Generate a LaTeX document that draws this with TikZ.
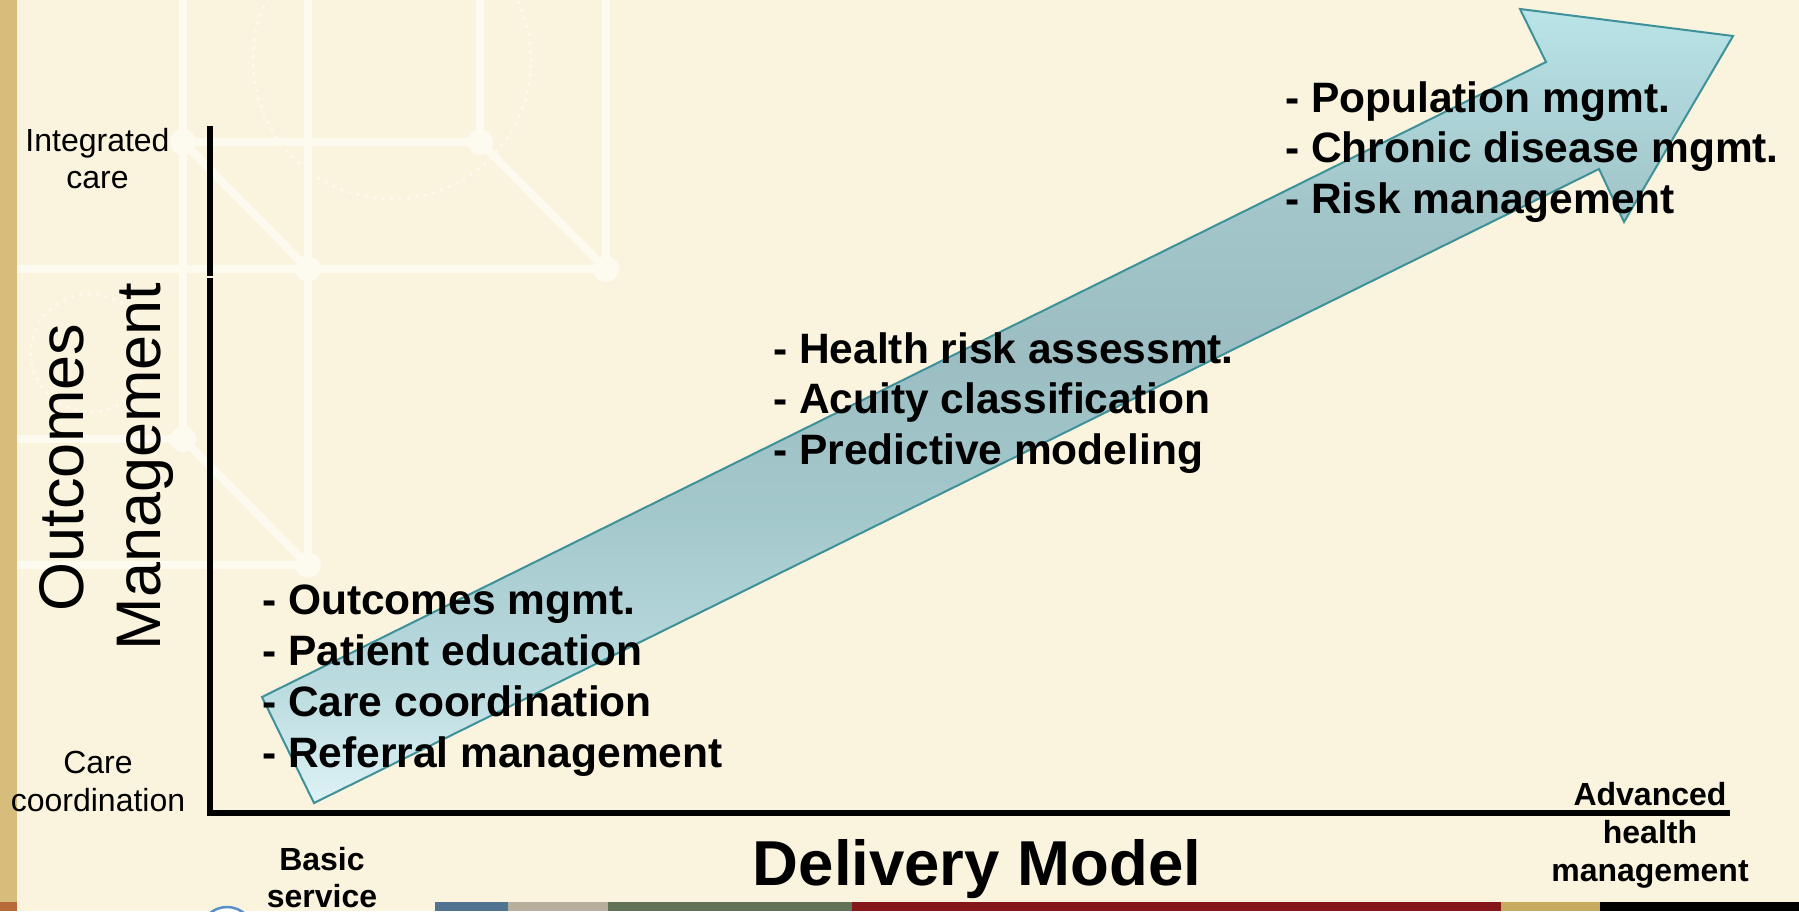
\documentclass[tikz,border=0pt]{standalone}
\usepackage{fontspec}
\setmainfont{Liberation Sans}
\usetikzlibrary{calc}

% palette
\definecolor{bgcream}{HTML}{FAF3DE}
\definecolor{bgline}{HTML}{FDFAF0}
\definecolor{bandgold}{HTML}{D7BC7B}
\definecolor{bandrust}{HTML}{B86A3B}
\definecolor{bandblue}{HTML}{4F7391}
\definecolor{bandtaupe}{HTML}{B8AE9E}
\definecolor{bandgreen}{HTML}{627257}
\definecolor{bandred}{HTML}{85161A}
\definecolor{bandochre}{HTML}{C8AA5E}
\definecolor{logoblue}{HTML}{5B8FC8}
\definecolor{arrowedge}{HTML}{3E9199}
\definecolor{arA}{HTML}{DDF2F5}
\definecolor{arB}{HTML}{BCDCE0}
\definecolor{arC}{HTML}{A3C8CC}
\definecolor{arD}{HTML}{9CBEC2}
\definecolor{arE}{HTML}{A2C6CA}
\definecolor{arF}{HTML}{B9E4E8}

% fill of the big arrow, bottom (25bp) to top (75bp)
\pgfdeclareverticalshading{arrowshade}{100bp}{%
  color(0bp)=(arA); color(25bp)=(arA); color(32bp)=(arB);
  color(43bp)=(arC); color(53bp)=(arD); color(63bp)=(arE);
  color(75bp)=(arF); color(100bp)=(arF)}

\tikzset{
  listitem/.style={anchor=base west, inner sep=0pt,
    font=\fontsize{42.5}{51}\selectfont\bfseries},
  scalelabel/.style={anchor=base, inner sep=0pt,
    font=\fontsize{32}{37}\selectfont},
  endlabel/.style={anchor=base, inner sep=0pt,
    font=\fontsize{32}{37}\selectfont\bfseries},
  axistitle/.style={anchor=base, inner sep=0pt,
    font=\fontsize{63.5}{70}\selectfont\bfseries},
  sidetitle/.style={anchor=base, inner sep=0pt, rotate=90,
    font=\fontsize{63}{70}\selectfont},
  netline/.style={draw=bgline, line width=8pt},
  netdot/.style={fill=bgline},
  dotring/.style={draw=bgline, line width=3.5pt, line cap=round,
    dash pattern=on 0pt off 8.5pt},
  axisline/.style={draw=black, line width=6pt},
  arrowbody/.style={shading=arrowshade},
  arrowline/.style={draw=arrowedge, line width=2pt, line join=miter},
}

\begin{document}
\begin{tikzpicture}[x=1pt,y=-1pt]
\useasboundingbox (0,0) rectangle (1799,911);
\fill[bgcream] (0,0) rectangle (1799,911);

% side band and footer band
\fill[bandgold] (0,0) rectangle (17,902);
\fill[bandrust] (0,902) rectangle (17,911);
\fill[bandblue] (435,902) rectangle (508,911);
\fill[bandtaupe] (508,902) rectangle (608,911);
\fill[bandgreen] (608,902) rectangle (852,911);
\fill[bandred] (852,902) rectangle (1501,911);
\fill[bandochre] (1501,902) rectangle (1600,911);
\fill[black] (1600,902) rectangle (1799,911);

% footer logo ring
\draw[logoblue, line width=2.5pt, fill=white] (227,934) circle (27pt);

% faint network in the background
\path[netline] (183,0) -- (183,439);
\path[netline] (308,0) -- (308,565);
\path[netline] (480,0) -- (480,142);
\path[netline] (606,0) -- (606,269);
\path[netline] (183,142) -- (480,142);
\path[netline] (17,269) -- (606,269);
\path[netline] (17,439) -- (183,439);
\path[netline] (17,565) -- (308,565);
\path[netline] (183,142) -- (308,269);
\path[netline] (480,142) -- (606,269);
\path[netline] (183,439) -- (308,565);
\foreach \p in {(183,142),(480,142),(308,269),(606,269),(183,439),(308,565)}
  \fill[netdot] \p circle (13pt);
\draw[dotring] (392,60) circle (139pt);
\draw[dotring] (90,353) circle (59pt);

% axes
\coordinate (ytop) at (210,126);
\coordinate (ybrk1) at (210,276);
\coordinate (ybrk2) at (210,278);
\coordinate (origin) at (210,816);
\coordinate (xorg) at (207,813);
\coordinate (xend) at (1730,813);
\path[axisline] (ytop) -- (ybrk1);
\path[axisline] (ybrk2) -- (origin);
\path[axisline] (xorg) -- (xend);

% rising arrow
\coordinate (t1) at (262,697);
\coordinate (s1) at (1546,62);
\coordinate (h1) at (1520,9);
\coordinate (tip) at (1733,36);
\coordinate (h2) at (1624,222);
\coordinate (s2) at (1599,169);
\coordinate (t2) at (314,803);
\shade[arrowbody] (t1) -- (s1) -- (h1) -- (tip) -- (h2) -- (s2) -- (t2) -- cycle;
\path[arrowline] (t1) -- (s1) -- (h1) -- (tip) -- (h2) -- (s2) -- (t2) -- cycle;

% vertical scale labels
\node[scalelabel] (int1) at (97.5,151) {Integrated};
\node[scalelabel] (int2) at (97.5,188) {care};
\node[scalelabel] (cc1) at (98,773) {Care};
\node[scalelabel] (cc2) at (98,811) {coordination};
\node[sidetitle] (om1) at (83,467.5) {Outcomes};
\node[sidetitle] (om2) at (160,466.5) {Management};

% horizontal scale labels
\node[endlabel] (bs1) at (322,870) {Basic};
\node[endlabel] (bs2) at (322,907) {service};
\node[endlabel] (ah1) at (1650,805) {Advanced};
\node[endlabel] (ah2) at (1650,843) {health};
\node[endlabel] (ah3) at (1650,881) {management};
\node[axistitle] (dm) at (977,885) {Delivery Model};

% stage lists
\node[listitem] (a1) at (262,614) {- Outcomes mgmt.};
\node[listitem] (a2) at (262,665) {- Patient education};
\node[listitem] (a3) at (262,716) {- Care coordination};
\node[listitem] (a4) at (262,767) {- Referral management};

\node[listitem] (b1) at (773,363) {- Health risk assessmt.};
\node[listitem] (b2) at (773,413.5) {- Acuity classification};
\node[listitem] (b3) at (773,464) {- Predictive modeling};

\node[listitem] (c1) at (1285,112) {- Population mgmt.};
\node[listitem] (c2) at (1285,162.5) {- Chronic disease mgmt.};
\node[listitem] (c3) at (1285,213) {- Risk management};
\end{tikzpicture}
\end{document}
